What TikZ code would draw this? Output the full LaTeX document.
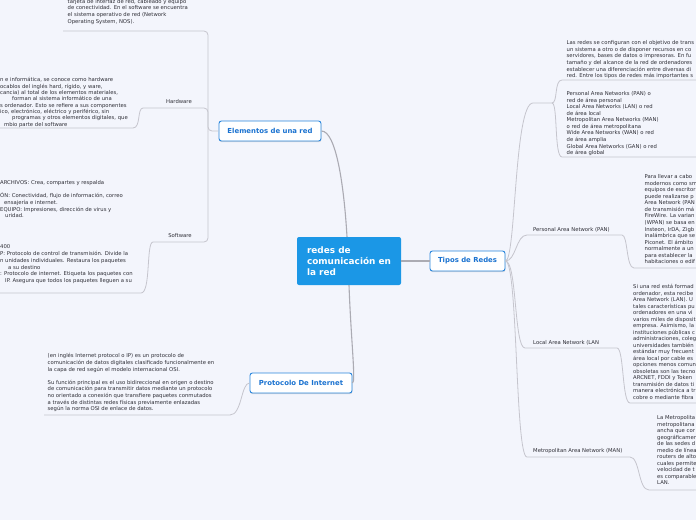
\documentclass[tikz,border=0pt]{standalone}
\usepackage{fontspec}
\setmainfont{DejaVu Sans}
\usetikzlibrary{shadows}
\definecolor{bg}{HTML}{F3F5FC}
\definecolor{hubblue}{HTML}{1B97E6}
\definecolor{bord}{HTML}{2A86DC}
\definecolor{btxt}{HTML}{1A72D0}
\definecolor{conn}{HTML}{C5C5CD}
\definecolor{conndark}{HTML}{ABABB3}
\definecolor{txt}{HTML}{2E2E36}
\tikzset{
  para/.style={font=\fontsize{5.3}{6.6}\selectfont, text=txt, inner sep=0pt, align=left, anchor=north west},
  lbl/.style={font=\fontsize{5.3}{6.4}\selectfont, text=txt, inner sep=0pt},
  topic/.style={draw=bord, line width=0.9pt, fill=white, rounded corners=2.5pt, text=btxt,
     font=\fontsize{6.9}{8}\selectfont\bfseries, minimum height=20pt, inner sep=0pt,
     drop shadow={shadow xshift=0.4pt, shadow yshift=-1.2pt, opacity=0.25, fill=gray}},
  hubbox/.style={fill=hubblue, rounded corners=2pt, minimum width=104pt, minimum height=48pt,
     text=white, font=\fontsize{8.9}{11}\selectfont\bfseries, align=left, inner sep=0pt},
  conline/.style={draw=conn, line width=0.8pt},
  mainline/.style={draw=conndark, line width=1.1pt},
}
\begin{document}
\begin{tikzpicture}[x=1pt,y=-1pt]
\path[fill=bg] (0,0) rectangle (696,520);
\useasboundingbox (0,0) rectangle (696,520);
\clip (0,0) rectangle (696,520);

% ---------- main nodes
\node[hubbox] (hub) at (349,261) {redes de\\comunicación en\\la red};
\node[topic, minimum width=102pt] (elem) at (270,131) {Elementos de una red};
\node[topic, minimum width=75pt] (tipos) at (467.5,261) {Tipos de Redes};
\node[topic, minimum width=102pt] (proto) at (301,383) {Protocolo De Internet};

% ---------- labels
\node[lbl] (hw) at (179,102) {Hardware};
\node[lbl] (sw) at (180,236) {Software};
\node[lbl, anchor=west] (pan) at (533,230) {Personal Area Network (PAN)};
\node[lbl, anchor=west] (lan) at (533,343) {Local Area Network (LAN};
\node[lbl, anchor=west] (man) at (533,451) {Metropolitan Area Network (MAN)};

% ---------- coordinates for underlines
\coordinate (elemjoin) at (208,131);
\coordinate (tlend) at (63,31);
\coordinate (hwl) at (143,108);
\coordinate (swl) at (153,242);
\coordinate (jx) at (533,103);
\coordinate (jy) at (552,103);
\coordinate (descl) at (562,80);
\coordinate (listl) at (562,157);
\coordinate (panl) at (527,235);
\coordinate (panr) at (622,235);
\coordinate (lanl) at (525,348);
\coordinate (lanr) at (617,348);
\coordinate (manl) at (527,457);
\coordinate (manr) at (630,457);

% ---------- main connectors
\draw[mainline] (elem.east) .. controls (336,131) and (344,185) .. ([xshift=-2pt]hub.north);
\draw[mainline] (hub.east) -- (tipos.west);
\draw[mainline] (hub.south) .. controls (351,340) and (356,383) .. (proto.east);

% ---------- left branches
\draw[conline, rounded corners=4pt] (elem.west) -- (elemjoin) |- (tlend);
\draw[conline, rounded corners=4pt] (elemjoin) |- (hwl);
\draw[conline, rounded corners=4pt] (elemjoin) |- (swl);
\draw[conline] (hwl) .. controls (137,108) and (141,128) .. (133,128) -- (0,128);
\draw[conline] (swl) .. controls (146,242) and (151,293) .. (141,293) -- (0,293);
\draw[conline] (proto.west) .. controls (241,383) and (242,415) .. (230,415) -- (44,415);

% ---------- right branches
\draw[conline] (tipos.east) .. controls (516,261) and (514,103) .. (jx) -- (jy);
\draw[conline] (jy) .. controls (558,103) and (554,80) .. (descl) -- (696,80);
\draw[conline] (jy) .. controls (558,103) and (554,157) .. (listl) -- (696,157);
\draw[conline] (tipos.east) .. controls (516,261) and (516,235) .. (panl) -- (panr)
   .. controls (628,235) and (626,268) .. (634,268) -- (696,268);
\draw[conline] (tipos.east) .. controls (517,261) and (514,348) .. (lanl) -- (lanr)
   .. controls (624,348) and (622,403) .. (630,403) -- (696,403);
\draw[conline] (tipos.east) .. controls (518,261) and (515,457) .. (manl) -- (manr)
   .. controls (640,457) and (638,490) .. (649,490) -- (696,490);

% ---------- text blocks
\node[para] (tltext) at (67.5,-0.85) {\rule{0pt}{4pt}tarjeta de interfaz de red, cableado y equipo\\de conectividad. En el software se encuentra\\el sistema operativo de red (Network\\Operating System, NOS).};

\node[para, font=\fontsize{5.3}{6.35}\selectfont] (hwtext) at (0,77.45) {\rule{0pt}{4pt}n e informática, se conoce como hardware\\ocablos del inglés hard, rígido, y ware,\\cancia) al total de los elementos materiales,\\\hspace*{12pt}forman al sistema informático de una\\s ordenador. Esto se refiere a sus componentes\\ico, electrónico, eléctrico y periférico, sin\\\hspace*{12pt}programas y otros elementos digitales, que\\\hspace*{4pt}mbio parte del software};

\node[para] (swtexta) at (0,180.45) {\rule{0pt}{4pt}ARCHIVOS: Crea, compartes y respalda\\[6.6pt]ÓN: Conectividad, flujo de información, correo\\\hspace*{4pt}ensajería e internet.\\EQUIPO: Impresiones, dirección de virus y\\\hspace*{5pt}uridad.};

\node[para, font=\fontsize{5.3}{6.8}\selectfont] (swtextb) at (0,244.45) {\rule{0pt}{4pt}400\\P: Protocolo de control de transmisión. Divide la\\n unidades individuales. Restaura los paquetes\\\hspace*{8pt}a su destino\\: Protocolo de internet. Etiqueta los paquetes con\\\hspace*{5pt}IP. Asegura que todos los paquetes lleguen a su};

\node[para] (prototext) at (47.5,353.45) {\rule{0pt}{4pt}(en inglés Internet protocol o IP) es un protocolo de\\comunicación de datos digitales clasificado funcionalmente en\\la capa de red según el modelo internacional OSI.\\[6.6pt]Su función principal es el uso bidireccional en origen o destino\\de comunicación para transmitir datos mediante un protocolo\\no orientado a conexión que transfiere paquetes conmutados\\a través de distintas redes físicas previamente enlazadas\\según la norma OSI de enlace de datos.};

\node[para] (desctext) at (566.5,40.45) {\rule{0pt}{4pt}Las redes se configuran con el objetivo de trans\\un sistema a otro o de disponer recursos en co\\servidores, bases de datos o impresoras. En fu\\tamaño y del alcance de la red de ordenadores\\establecer una diferenciación entre diversas di\\red. Entre los tipos de redes más importantes s};

\node[para, font=\fontsize{5.3}{6.55}\selectfont] (listtext) at (566.5,91.45) {\rule{0pt}{4pt}Personal Area Networks (PAN) o\\red de área personal\\Local Area Networks (LAN) o red\\de área local\\Metropolitan Area Networks (MAN)\\o red de área metropolitana\\Wide Area Networks (WAN) o red\\de área amplia\\Global Area Networks (GAN) o red\\de área global};

\node[para, font=\fontsize{5.3}{6.55}\selectfont] (pantext) at (644.5,174.45) {\rule{0pt}{4pt}Para llevar a cabo\\modernos como sm\\equipos de escritor\\puede realizarse p\\Area Network (PAN\\de transmisión má\\FireWire. La varian\\(WPAN) se basa en\\Insteon, IrDA, Zigb\\inalámbrica que se\\Piconet. El ámbito\\normalmente a un\\para establecer la\\habitaciones o edif};

\node[para, font=\fontsize{5.3}{6.5}\selectfont] (lantext) at (633,284.45) {\rule{0pt}{4pt}Si una red está formad\\ordenador, esta recibe\\Area Network (LAN). U\\tales características pu\\ordenadores en una vi\\varios miles de disposit\\empresa. Asimismo, la\\instituciones públicas c\\administraciones, coleg\\universidades también\\estándar muy frecuent\\área local por cable es\\opciones menos comun\\obsoletas son las tecno\\ARCNET, FDDI y Token\\transmisión de datos ti\\manera electrónica a tr\\cobre o mediante fibra};

\node[para, font=\fontsize{5.3}{6.5}\selectfont] (mantext) at (657,415.45) {\rule{0pt}{4pt}La Metropolita\\metropolitana\\ancha que cor\\geográficamen\\de las sedes d\\medio de línea\\routers de alto\\cuales permite\\velocidad de t\\es comparable\\LAN.};
\end{tikzpicture}
\end{document}
